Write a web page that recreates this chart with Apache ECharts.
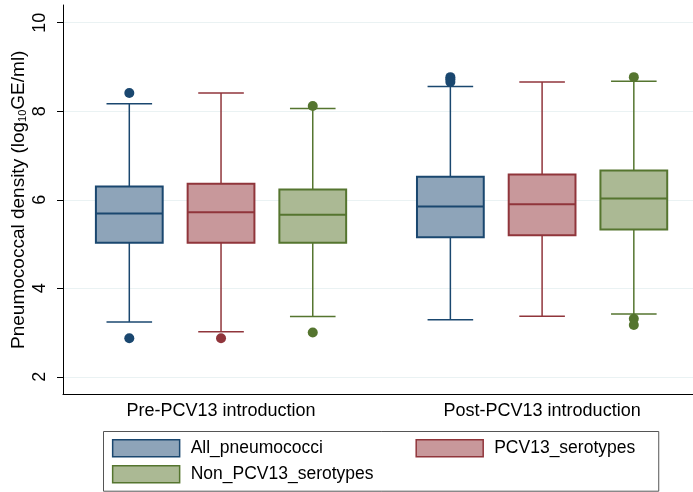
<!DOCTYPE html>
<html>
<head>
<meta charset="utf-8">
<script src="https://cdn.jsdelivr.net/npm/echarts@6/dist/echarts.min.js"></script>
<style>
	html, body { margin: 0; padding: 0; background: #fff; }
	#chart { width: 693px; height: 492px; }
</style>
</head>
<body>
<div id="chart"></div>
<script>
// categories and series
const categories = ['Pre-PCV13 introduction', 'Post-PCV13 introduction'];
const groupPos = [1, 2];
const seriesNames = ['All_pneumococci', 'PCV13_serotypes', 'Non_PCV13_serotypes'];

// box stats per group: [min, Q1, median, Q3, max]
const allPneumococci = [[3.24, 5.03, 5.69, 6.30, 8.17], [3.29, 5.15, 5.85, 6.52, 8.56]];
const pcv13Serotypes = [[3.02, 5.03, 5.72, 6.36, 8.41], [3.37, 5.20, 5.90, 6.57, 8.66]];
const nonPcv13Serotypes = [[3.36, 5.03, 5.66, 6.23, 8.06], [3.42, 5.33, 6.03, 6.66, 8.68]];

// outliers: [group index, value]
const allOutliers = [[0, 8.41], [0, 2.87], [1, 8.77], [1, 8.72], [1, 8.66]];
const pcv13Outliers = [[0, 2.87]];
const nonPcv13Outliers = [[0, 8.12], [0, 3.00], [1, 8.77], [1, 3.31], [1, 3.17]];

const yTicks = [2, 4, 6, 8, 10];

const boxStats = [allPneumococci, pcv13Serotypes, nonPcv13Serotypes];
const outliers = [allOutliers, pcv13Outliers, nonPcv13Outliers];
const lineColors = ['#1a476f', '#90353b', '#55752f'];
const fillColors = ['#8ea4b9', '#c8989b', '#abb994'];
const offsets = [-0.2857, 0, 0.2857];
const BOX_W = 0.208;  // in x units
const CAP_W = 0.142;
const FONT = 'Liberation Sans, Arial, sans-serif';

function makeRender(k) {
	return function (params, api) {
		const cx = api.coord([api.value(0) + offsets[k], 0])[0];
		const yMin = api.coord([0, api.value(1)])[1];
		const yQ1 = api.coord([0, api.value(2)])[1];
		const yMed = api.coord([0, api.value(3)])[1];
		const yQ3 = api.coord([0, api.value(4)])[1];
		const yMax = api.coord([0, api.value(5)])[1];
		const bw = api.size([BOX_W, 0])[0];
		const cw = api.size([CAP_W, 0])[0];
		const ls = { stroke: lineColors[k], lineWidth: 1.5 };
		return {
			type: 'group',
			children: [
				{ type: 'line', shape: { x1: cx, y1: yMax, x2: cx, y2: yQ3 }, style: ls },
				{ type: 'line', shape: { x1: cx, y1: yQ1, x2: cx, y2: yMin }, style: ls },
				{ type: 'line', shape: { x1: cx - cw / 2, y1: yMax, x2: cx + cw / 2, y2: yMax }, style: ls },
				{ type: 'line', shape: { x1: cx - cw / 2, y1: yMin, x2: cx + cw / 2, y2: yMin }, style: ls },
				{ type: 'rect', shape: { x: cx - bw / 2, y: yQ3, width: bw, height: yQ1 - yQ3 },
					style: { fill: fillColors[k], stroke: lineColors[k], lineWidth: 2 } },
				{ type: 'line', shape: { x1: cx - bw / 2, y1: yMed, x2: cx + bw / 2, y2: yMed },
					style: { stroke: lineColors[k], lineWidth: 2 } }
			]
		};
	};
}

const series = [];
seriesNames.forEach(function (name, k) {
	series.push({
		name: name,
		type: 'custom',
		renderItem: makeRender(k),
		itemStyle: { color: fillColors[k], borderColor: lineColors[k] },
		encode: { x: 0, y: [1, 2, 3, 4, 5] },
		data: boxStats[k].map(function (d, g) { return [groupPos[g]].concat(d); })
	});
});
seriesNames.forEach(function (name, k) {
	series.push({
		name: name + ' outliers',
		type: 'scatter',
		symbol: 'circle',
		symbolSize: 10,
		itemStyle: { color: lineColors[k], opacity: 1 },
		z: 5,
		data: outliers[k].map(function (o) { return [groupPos[o[0]] + offsets[k], o[1]]; })
	});
});

function legendItem(k) {
	return { name: seriesNames[k], itemStyle: { color: fillColors[k], borderColor: lineColors[k], borderWidth: 1.5 } };
}
const legendBase = {
	orient: 'horizontal',
	itemWidth: 67,
	itemHeight: 17,
	icon: 'rect',
	selectedMode: false,
	textStyle: { fontSize: 17.5, color: '#000', fontFamily: FONT, padding: [0, 0, 0, 6] }
};

const chart = echarts.init(document.getElementById('chart'));
chart.setOption({
	animation: false,
	backgroundColor: '#fff',
	textStyle: { fontFamily: FONT },
	grid: { left: 63, right: 0, top: 5, bottom: 97.5, containLabel: false, outerBoundsMode: 'none' },
	xAxis: {
		type: 'value',
		min: 0.5078,
		max: 2.470,
		axisLine: { onZero: false, lineStyle: { color: '#000', width: 1 } },
		axisTick: { show: false },
		splitLine: { show: false },
		axisLabel: {
			customValues: groupPos,
			formatter: function (v) { return categories[Math.round(v) - 1]; },
			color: '#000', fontSize: 18, fontFamily: FONT, margin: 8
		}
	},
	yAxis: {
		type: 'value',
		min: 1.6,
		max: 10.4,
		name: '{a|Pneumococcal density (log}{s|10}{a|GE/ml)}',
		nameLocation: 'middle',
		nameRotate: 90,
		nameGap: 35,
		nameMoveOverlap: false,
		nameTextStyle: {
			rich: {
				a: { fontSize: 19, fontFamily: FONT, color: '#000' },
				s: { fontSize: 11, fontFamily: FONT, color: '#000', verticalAlign: 'bottom', padding: [8, 0, 0, 0] }
			}
		},
		axisLine: { show: true, lineStyle: { color: '#000', width: 1 } },
		axisTick: { show: true, customValues: yTicks, length: 6, lineStyle: { color: '#000' } },
		splitLine: { show: true, lineStyle: { color: '#eaf2f3', width: 1 } },
		axisLabel: { customValues: yTicks, rotate: 90, color: '#000', fontSize: 18, fontFamily: FONT, margin: 14 }
	},
	legend: [
		Object.assign({}, legendBase, {
			left: 103.5,
			top: 431.5,
			itemGap: 92.5,
			padding: [7.6, 23.5, 33.6, 8.4],
			borderColor: '#555',
			borderWidth: 1,
			data: [legendItem(0), legendItem(1)]
		}),
		Object.assign({}, legendBase, {
			left: 111.9,
			top: 465.1,
			padding: 0,
			data: [legendItem(2)]
		})
	],
	series: series
});
</script>
</body>
</html>
